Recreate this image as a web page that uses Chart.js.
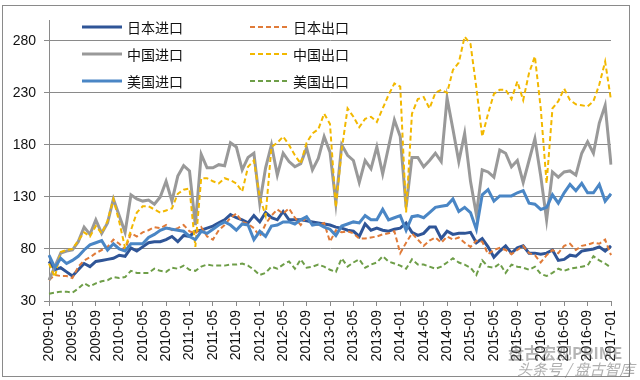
<!DOCTYPE html>
<html><head><meta charset="utf-8">
<script src="https://cdn.jsdelivr.net/npm/chart.js@4.4.0/dist/chart.umd.min.js"></script>
<style>html,body{margin:0;padding:0;background:#fff}#wrap{width:640px;height:380px;position:relative}</style>
</head><body><div id="wrap"><canvas id="c" width="640" height="380"></canvas></div>
<script>
// ---- categories ----
const startYear = 2009, monthCount = 97;
const months = [];
for (let k = 0; k < monthCount; k++) {
  const y = startYear + Math.floor(k / 12), m = k % 12 + 1;
  months.push(y + '-' + String(m).padStart(2, '0'));
}
const seriesNames = ['日本进口', '日本出口', '中国进口', '中国出口', '美国进口', '美国出口'];
const yTicks = [30, 80, 130, 180, 230, 280];

// ---- series values ----
const jpImp = [68,60,62,58,54,60,66,63,68,69,70,71,74,73,81,78,82,
  86,87,87,89,92,87,93,92,97,98,100,102,105,108,113,110,
  108,105,112,106,115,110,108,116,108,108,108,107,106,105,104,103,101,100,98,97,92,104,98,100,98,97,99,100,105,96,93,
  95,101,101,90,97,94,95,95,96,86,90,82,72,78,83,76,81,83,76,76,75,76,79,69,70,74,73,78,79,80,82,78,83];
const jpExp = [50,55,54,54,52,63,69,72,76,79,82,89,85,79,95,92,96,
  98,101,100,103,98,100,103,97,95,101,92,89,98,103,110,114,
  106,104,100,92,104,112,118,114,119,110,103,111,104,103,105,87,98,96,97,95,90,90,91,92,94,95,97,76,86,95,89,
  83,88,91,86,92,89,91,86,82,88,87,75,79,81,79,75,79,83,76,74,67,74,79,76,83,85,79,83,84,86,85,89,74];
const cnImp = [50,63,76,78,79,87,101,94,108,95,105,128,112,96,132,128,126,
  127,123,130,145,126,150,160,155,103,171,158,158,161,160,182,178,
  156,168,172,124,158,180,151,172,164,159,162,177,156,167,188,173,124,180,170,165,144,165,157,178,152,178,204,188,120,168,168,
  159,165,172,164,225,195,164,191,145,113,156,154,149,175,172,159,165,144,165,186,150,108,154,149,154,155,151,172,183,172,201,218,161];
const cnExp = [66,53,77,79,80,88,96,92,102,95,107,128,106,81,98,115,121,
  121,118,115,117,119,133,137,138,82,148,148,145,143,148,146,143,
  135,159,165,130,112,178,182,188,180,170,162,182,191,195,210,200,120,175,215,207,197,205,207,202,215,228,239,236,115,210,224,
  226,215,230,233,230,252,259,284,277,235,188,210,229,233,233,224,241,223,249,265,215,143,215,222,234,223,219,218,217,222,238,260,223];
const usImp = [74,62,71,66,69,73,79,84,86,88,79,85,80,78,85,85,85,
  91,94,98,100,99,98,97,92,89,97,95,99,103,106,103,98,
  104,103,89,97,92,102,103,106,106,104,108,111,103,104,101,99,93,102,104,106,105,112,108,108,118,108,110,112,98,111,112,
  110,115,120,121,122,128,116,120,115,99,132,137,126,131,131,131,134,136,124,123,118,120,132,124,134,142,136,143,134,134,142,126,133];
const usExp = [37,38,39,39,38,42,47,44,47,49,50,53,52,53,59,57,57,
  57,61,59,58,62,61,64,60,59,63,65,64,64,64,65,65,
  66,64,60,55,57,63,61,65,68,61,70,62,63,65,63,60,58,71,63,67,70,62,65,67,73,68,66,64,61,70,65,
  65,63,61,63,67,71,67,65,62,55,69,63,62,66,57,65,63,62,60,63,56,54,57,61,59,61,62,63,64,73,69,66,62];

const seriesData = [jpImp, jpExp, cnImp, cnExp, usImp, usExp];
const colors = ['#2F5597', '#E07B39', '#999999', '#F2B800', '#4A86C5', '#6E9E48'];
const dashed = [false, true, false, true, false, true];

const FONT = '"Liberation Sans", Arial, sans-serif';
const CJK = '"Noto Sans CJK SC", "Noto Sans", sans-serif';

const datasets = seriesNames.map((n, i) => ({
  label: n,
  data: seriesData[i],
  borderColor: colors[i],
  backgroundColor: colors[i],
  borderWidth: dashed[i] ? 2 : 3,
  borderDash: dashed[i] ? [5, 3] : [],
  pointRadius: 0,
  tension: 0,
  fill: false,
  order: -i
}));

const framePlugin = {
  id: 'frame',
  beforeDraw(chart) {
    const ctx = chart.ctx;
    ctx.save();
    ctx.fillStyle = '#fff';
    ctx.fillRect(0, 0, chart.width, chart.height);
    ctx.restore();
  },
  afterDraw(chart) {
    const ctx = chart.ctx;
    ctx.save();
    ctx.strokeStyle = '#8a8a8a';
    ctx.lineWidth = 1;
    ctx.strokeRect(2.5, 5.5, 627, 371);
    // legend
    const cols = [{x0: 82, x1: 122, tx: 127}, {x0: 250, x1: 287, tx: 293}];
    const rows = [27, 54, 81];
    ctx.font = '14px ' + CJK;
    ctx.textBaseline = 'middle';
    ctx.textAlign = 'left';
    seriesNames.forEach((n, i) => {
      const c = cols[i % 2], y = rows[Math.floor(i / 2)];
      ctx.beginPath();
      ctx.strokeStyle = colors[i];
      ctx.lineWidth = dashed[i] ? 2 : 3;
      ctx.setLineDash(dashed[i] ? [5, 3] : []);
      ctx.moveTo(c.x0, y);
      ctx.lineTo(c.x1, y);
      ctx.stroke();
      ctx.setLineDash([]);
      ctx.fillStyle = '#111';
      ctx.fillText(n, c.tx, y + 1);
    });
    // watermark
    ctx.font = 'bold 16px ' + CJK;
    ctx.fillStyle = 'rgba(90,90,90,0.45)';
    ctx.fillText('盘古宏观PRIME', 508, 353);
    ctx.font = 'italic 15px ' + CJK;
    ctx.fillStyle = 'rgba(110,110,110,0.55)';
    ctx.fillText('头条号 / 盘古智库', 517, 369);
    ctx.restore();
  }
};

new Chart(document.getElementById('c'), {
  type: 'line',
  data: { labels: months, datasets },
  options: {
    responsive: false,
    animation: false,
    layout: { padding: { left: 0, right: 29, top: 20, bottom: 0 } },
    plugins: { legend: { display: false }, tooltip: { enabled: false } },
    scales: {
      x: {
        type: 'category',
        offset: false,
        grid: { display: true, drawOnChartArea: false, drawTicks: true, tickLength: 5, color: '#8a8a8a' },
        border: { display: true, color: '#8a8a8a' },
        ticks: {
          autoSkip: false, minRotation: 90, maxRotation: 90, padding: 4,
          color: '#111', font: { family: FONT, size: 14 }
        },
        afterBuildTicks(scale) { scale.ticks = scale.ticks.filter(t => t.value % 4 === 0); },
        afterFit(scale) { scale.height = 79; }
      },
      y: {
        min: 30, max: 300,
        grid: { color: '#8a8a8a', tickLength: 5, drawTicks: true },
        border: { display: true, color: '#8a8a8a' },
        ticks: { stepSize: 50, padding: 8, color: '#111', font: { family: FONT, size: 14 } },
        afterBuildTicks(scale) { scale.ticks = yTicks.map(v => ({ value: v })); },
        afterFit(scale) { scale.width = 49; }
      }
    }
  },
  plugins: [framePlugin]
});
</script></body></html>
